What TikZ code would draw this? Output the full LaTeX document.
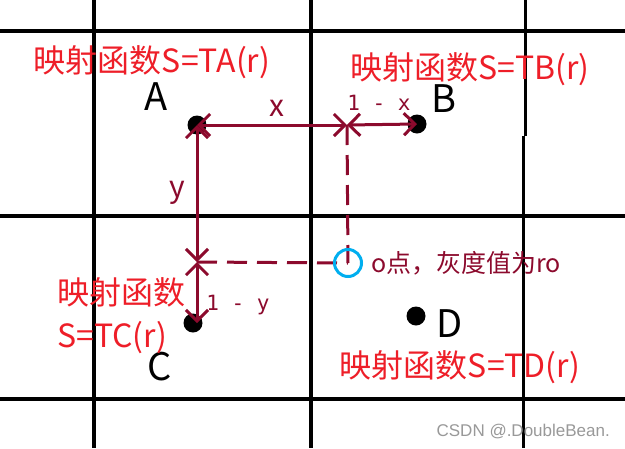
\documentclass[tikz,border=0pt]{standalone}
\usepackage{fontspec}
\setmainfont{Noto Sans CJK SC}
\newfontfamily\monofont{DejaVu Sans Mono}
\newfontfamily\markfont{Liberation Sans}
\usetikzlibrary{arrows.meta}
\definecolor{mapRed}{RGB}{238,30,40}
\definecolor{lineRed}{RGB}{140,10,45}
\definecolor{ringBlue}{RGB}{0,174,239}

\begin{document}
\begin{tikzpicture}[x=1pt,y=-1pt,
    gridline/.style={line width=3.5pt},
    pt/.style={circle,fill=black,inner sep=0pt,minimum size=19pt},
    arr/.style={lineRed,line width=3pt,{Straight Barb[length=11pt,width=22pt]}-{Straight Barb[length=11pt,width=22pt]}},
    guide/.style={lineRed,line width=3pt,dash pattern=on 20pt off 10pt},
    maplabel/.style={text=mapRed,font=\fontsize{32}{43}\selectfont,inner sep=0pt},
    letter/.style={font=\fontsize{38}{40}\selectfont,inner sep=0pt}]
                    \fill[white] (0,0) rectangle (625,448);
                    \useasboundingbox (0,0) rectangle (625,448);
                    % grid
                    \draw[gridline] (0,31) -- (625,31);
                    \draw[gridline] (0,216) -- (625,216);
                    \draw[gridline] (0,399) -- (625,399);
                    \draw[gridline] (94,0) -- (94,448);
                    \draw[gridline] (311,0) -- (311,448);
                    \draw[gridline] (525.5,0) -- (525.5,136);
                    \draw[gridline] (523.5,136) -- (523.5,448);
                    % the four pixels
                    \node[pt] (A) at (197,125) {};
                    \node[pt] (B) at (417,124) {};
                    \node[pt] (C) at (193,323) {};
                    \node[pt] (D) at (416,316) {};
                    \coordinate (px) at (347,125);
                    \coordinate (py) at (197,262);
                    \coordinate (O) at (348,263);
                    \draw[guide] (px) -- (O);
                    \draw[guide] (py) -- (O);
                    \draw[arr] (A.center) -- (px);
                    \draw[arr] (px) -- (B.center);
                    \draw[arr] (A.center) -- (py);
                    \draw[arr] (py) -- (C.center -| py);
                    \draw[ringBlue,line width=3pt] (O) circle (13.5pt);
                    % labels
                    \node[letter] (nameA) at (156,97) {A};
                    \node[letter] (nameB) at (444,99) {B};
                    \node[letter] (nameC) at (160,367) {C};
                    \node[letter] (nameD) at (450,324) {D};
                    \node[text=lineRed,font=\fontsize{30}{32}\selectfont,inner sep=0pt] (lx) at (277,108) {x};
                    \node[text=lineRed,font=\fontsize{30}{32}\selectfont,inner sep=0pt] (ly) at (177,193) {y};
                    \node[text=lineRed,font=\monofont\fontsize{21}{23}\selectfont,inner sep=0pt] (lx1) at (379,103) {1 - x};
                    \node[text=lineRed,font=\monofont\fontsize{21}{23}\selectfont,inner sep=0pt] (ly1) at (238,305) {1 - y};
                    \node[maplabel] (mapA) at (152,62) {映射函数S=TA(r)};
                    \node[maplabel] (mapB) at (470,69) {映射函数S=TB(r)};
                    \node[maplabel,align=left,anchor=west] (mapC) at (57,316) {映射函数\\S=TC(r)};
                    \node[maplabel] (mapD) at (460,367) {映射函数S=TD(r)};
                    \node[text=lineRed,font=\fontsize{25}{27}\selectfont,inner sep=0pt,anchor=west] (labO) at (371,263) {o点，灰度值为ro};
                    \node[text=gray!80,font=\markfont\fontsize{17}{19}\selectfont,inner sep=0pt,anchor=east] (mark) at (610,432) {CSDN @.DoubleBean.};
                \end{tikzpicture}
\end{document}
